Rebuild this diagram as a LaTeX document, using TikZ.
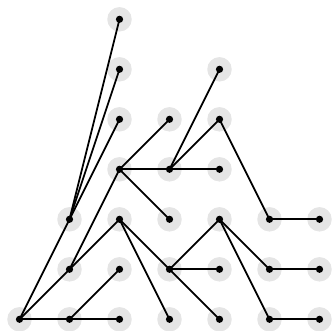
\documentclass[tikz,border=0pt]{standalone}
\usepackage{tikz}

\tikzset{
  halo/.style={circle, fill=gray!20, minimum size=0.49cm, inner sep=0pt},
  tedge/.style={line width=1pt},
}

\begin{document}
\begin{tikzpicture}
  \useasboundingbox (-0.39,-0.214) rectangle (6.25,6.386);

  % grey discs, named n<col><row>
  \foreach \c/\r in {0/0, 1/0,1/1,1/2, 2/0,2/1,2/2,2/3,2/4,2/5,2/6,
                     3/0,3/1,3/2,3/3,3/4, 4/0,4/1,4/2,4/3,4/4,4/5,
                     5/0,5/1,5/2, 6/0,6/1,6/2}{
    \node[halo] (n\c\r) at (\c,\r) {};
  }

  % tree edges
  \foreach \a/\b in {00/12, 00/11, 00/10,
                     12/26, 12/25, 12/24,
                     11/23, 11/22, 10/21, 10/20,
                     23/34, 23/33, 23/32,
                     33/45, 33/44, 33/43, 44/52, 52/62,
                     22/31, 22/30,
                     31/42, 31/41, 31/40,
                     42/51, 42/50, 51/61, 50/60}{
    \draw[tedge] (n\a.center) -- (n\b.center);
  }

  % black dots on top
  \foreach \c/\r in {0/0, 1/0,1/1,1/2, 2/0,2/1,2/2,2/3,2/4,2/5,2/6,
                     3/0,3/1,3/2,3/3,3/4, 4/0,4/1,4/2,4/3,4/4,4/5,
                     5/0,5/1,5/2, 6/0,6/1,6/2}{
    \fill (n\c\r) circle (0.072);
  }
\end{tikzpicture}
\end{document}
